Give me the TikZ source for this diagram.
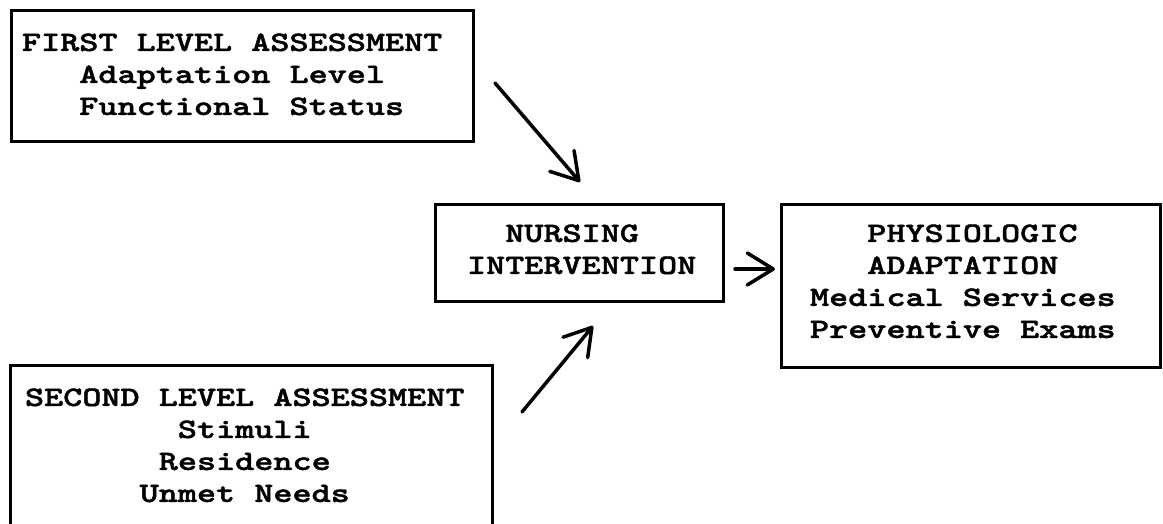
\documentclass[tikz,border=0pt]{standalone}
\usepackage{fontspec}
\newfontfamily\typew[FakeStretch=1.3,FakeBold=1.6]{lmmonolt10-bold.otf}
\usetikzlibrary{arrows.meta}
\begin{document}
\begin{tikzpicture}[x=1pt,y=-1pt,
  box/.style={draw=black, line width=3pt, rectangle, inner sep=0pt, outer sep=0pt, anchor=north west},
  txt/.style={anchor=north west, inner sep=0pt, outer sep=0pt, align=left,
              font=\typew\fontsize{28}{32}\selectfont},
  conn/.style={line width=3.5pt, line cap=round, -{Straight Barb[length=26pt,width=32pt,line cap=round,line join=round]}}]
\useasboundingbox (0,0) rectangle (1163,524);
\clip (0,0) rectangle (1163,524);
% boxes
\node[box, minimum width=462pt, minimum height=131pt] (first) at (11,11) {};
\node[box, minimum width=288pt, minimum height=96pt] (nursing) at (435,205) {};
\node[box, minimum width=379pt, minimum height=162pt] (physio) at (781,205) {};
\node[box, minimum width=482pt, minimum height=220pt] (second) at (10,365) {};
% texts
\node[txt] (firstT) at (22,33.5) {FIRST LEVEL ASSESSMENT\\\ \ \ Adaptation Level\\\ \ \ Functional Status};
\node[txt] (nursingT) at (467,224.5) {\ \ NURSING\\INTERVENTION};
\node[txt] (physioT) at (810,224.5) {\ \ \ PHYSIOLOGIC\\\ \ \ ADAPTATION\\Medical Services\\Preventive Exams};
\node[txt] (secondT) at (25,388.5) {SECOND LEVEL ASSESSMENT\\\ \ \ \ \ \ \ \ Stimuli\\\ \ \ \ \ \ \ Residence\\\ \ \ \ \ \ Unmet Needs};
% connectors
\coordinate (a1s) at (495,83);
\coordinate (a1e) at (580,182);
\coordinate (a2s) at (522,412);
\coordinate (a2e) at (593,326);
\coordinate (a3s) at (735,269);
\coordinate (a3e) at (775,269);
\draw[conn] (a1s) -- (a1e);
\draw[conn] (a2s) -- (a2e);
\draw[conn] (a3s) -- (a3e);
\end{tikzpicture}
\end{document}
